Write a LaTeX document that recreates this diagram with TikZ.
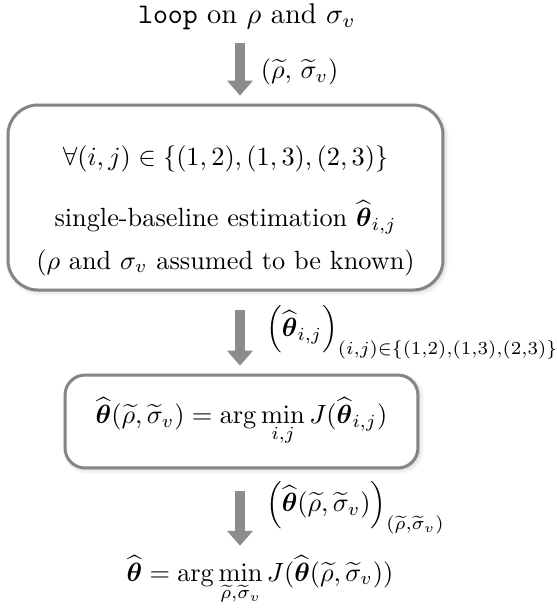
\documentclass[tikz,border=0pt]{standalone}
\usepackage{amsmath,amssymb}
\usepackage{xcolor}
\usepackage{tikz}
\usetikzlibrary{arrows.meta,positioning,shadows.blur}
\definecolor{flowgray}{HTML}{8C8C8C}
\definecolor{boxgray}{HTML}{858585}
\newcommand{\thhat}{\widehat{\boldsymbol{\theta}}}

\begin{document}
\begin{tikzpicture}[
  x=0.38pt,y=-0.38pt,
  procbox/.style={rounded corners=11.4pt,draw=boxgray,line width=1.14pt,fill=white,align=center,
    blur shadow={shadow xshift=0.6pt,shadow yshift=-0.6pt,shadow blur steps=4,shadow opacity=25}},
  flow/.style={draw=flowgray,line width=3.8pt,-{Triangle[width=9.5pt,length=5.7pt]}},
  flowlab/.style={right=#1,inner sep=0pt},
  flowlab/.default=6pt]
  \useasboundingbox (0,0) rectangle (557,610);
  \coordinate (mid) at (240,0);
  \node[scale=1.08] (loop) at (247,17) {\texttt{loop} on $\rho$ and $\sigma_v$};
  \node[procbox,minimum width=165.3pt,minimum height=70.3pt] (single) at (225.5,197.5)
    {\rule{0pt}{17.5pt}$\forall (i,j)\in\{(1,2),(1,3),(2,3)\}$\\[10pt]
     single-baseline estimation $\thhat_{i,j}$\\[4pt]
     ($\rho$ and $\sigma_v$ assumed to be known)};
  \node[procbox,rounded corners=7.6pt,minimum width=134.1pt,minimum height=35.3pt] (select) at (241.5,421.5)
    {$\displaystyle\thhat(\widetilde{\rho},\widetilde{\sigma}_v)=\arg\min_{i,j}J(\thhat_{i,j})$};
  \node (final) at (260,580)
    {$\displaystyle\thhat=\arg\min_{\widetilde{\rho},\widetilde{\sigma}_v}J(\thhat(\widetilde{\rho},\widetilde{\sigma}_v))$};
  % arrows between the steps
  \draw[flow,shorten <=1pt,shorten >=3pt] (loop.south -| mid) -- (single.north -| mid)
    node[flowlab,midway] {$(\widetilde{\rho},\,\widetilde{\sigma}_v)$};
  \draw[flow,shorten <=7pt,shorten >=3pt] (single.south -| mid) -- (select.north -| mid)
    node[flowlab=8pt,midway] {$\Bigl(\thhat_{i,j}\Bigr)_{(i,j)\in\{(1,2),(1,3),(2,3)\}}$};
  \draw[flow,shorten <=8pt,shorten >=0pt] (select.south -| mid) -- (final.north -| mid)
    node[flowlab=8pt,midway] {$\Bigl(\thhat(\widetilde{\rho},\widetilde{\sigma}_v)\Bigr)_{(\widetilde{\rho},\widetilde{\sigma}_v)}$};
\end{tikzpicture}
\end{document}
